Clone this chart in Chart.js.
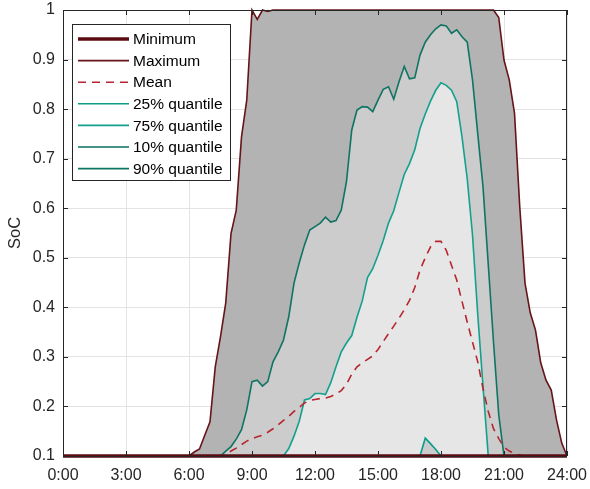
<!DOCTYPE html>
<html>
<head>
<meta charset="utf-8">
<script src="https://cdn.jsdelivr.net/npm/chart.js@4.4.1/dist/chart.umd.min.js"></script>
<style>
    html, body { margin: 0; padding: 0; background: #ffffff; }
    #contenedor { width: 590px; height: 489px; position: relative; }
</style>
</head>
<body>
<div id="contenedor"><canvas id="graficoSoc"></canvas></div>
<script>
// Hora del dia (pasos de 15 minutos)
const horas = [
    0, 0.25, 0.5, 0.75, 1, 1.25, 1.5, 1.75, 2, 2.25, 2.5, 2.75,
    3, 3.25, 3.5, 3.75, 4, 4.25, 4.5, 4.75, 5, 5.25, 5.5, 5.75,
    6, 6.25, 6.5, 6.75, 7, 7.25, 7.5, 7.75, 8, 8.25, 8.5, 8.75,
    9, 9.25, 9.5, 9.75, 10, 10.25, 10.5, 10.75, 11, 11.25, 11.5, 11.75,
    12, 12.25, 12.5, 12.75, 13, 13.25, 13.5, 13.75, 14, 14.25, 14.5, 14.75,
    15, 15.25, 15.5, 15.75, 16, 16.25, 16.5, 16.75, 17, 17.25, 17.5, 17.75,
    18, 18.25, 18.5, 18.75, 19, 19.25, 19.5, 19.75, 20, 20.25, 20.5, 20.75,
    21, 21.25, 21.5, 21.75, 22, 22.25, 22.5, 22.75, 23, 23.25, 23.5, 23.75,
    24
];

const minimo = [
    0.1, 0.1, 0.1, 0.1, 0.1, 0.1, 0.1, 0.1, 0.1, 0.1, 0.1, 0.1,
    0.1, 0.1, 0.1, 0.1, 0.1, 0.1, 0.1, 0.1, 0.1, 0.1, 0.1, 0.1,
    0.1, 0.1, 0.1, 0.1, 0.1, 0.1, 0.1, 0.1, 0.1, 0.1, 0.1, 0.1,
    0.1, 0.1, 0.1, 0.1, 0.1, 0.1, 0.1, 0.1, 0.1, 0.1, 0.1, 0.1,
    0.1, 0.1, 0.1, 0.1, 0.1, 0.1, 0.1, 0.1, 0.1, 0.1, 0.1, 0.1,
    0.1, 0.1, 0.1, 0.1, 0.1, 0.1, 0.1, 0.1, 0.1, 0.1, 0.1, 0.1,
    0.1, 0.1, 0.1, 0.1, 0.1, 0.1, 0.1, 0.1, 0.1, 0.1, 0.1, 0.1,
    0.1, 0.1, 0.1, 0.1, 0.1, 0.1, 0.1, 0.1, 0.1, 0.1, 0.1, 0.1,
    0.1
];

const maximo = [
    0.1, 0.1, 0.1, 0.1, 0.1, 0.1, 0.1, 0.1, 0.1, 0.1, 0.1, 0.1,
    0.1, 0.1, 0.1, 0.1, 0.1, 0.1, 0.1, 0.1, 0.1, 0.1, 0.1, 0.1,
    0.1, 0.108, 0.114, 0.142, 0.169, 0.28, 0.341, 0.409, 0.549, 0.596, 0.744, 0.818,
    1, 0.981, 1, 0.997, 1, 1, 1, 1, 1, 1, 1, 1,
    1, 1, 1, 1, 1, 1, 1, 1, 1, 1, 1, 1,
    1, 1, 1, 1, 1, 1, 1, 1, 1, 1, 1, 1,
    1, 1, 1, 1, 1, 1, 1, 1, 1, 1, 1, 0.985,
    0.899, 0.859, 0.792, 0.603, 0.449, 0.389, 0.354, 0.288, 0.253, 0.233, 0.173, 0.126,
    0.1
];

const media = [
    0.1, 0.1, 0.1, 0.1, 0.1, 0.1, 0.1, 0.1, 0.1, 0.1, 0.1, 0.1,
    0.1, 0.1, 0.1, 0.1, 0.1, 0.1, 0.1, 0.1, 0.1, 0.1, 0.1, 0.1,
    0.1, 0.1, 0.1, 0.1, 0.1, 0.1, 0.1, 0.102, 0.11, 0.116, 0.123, 0.13,
    0.135, 0.139, 0.142, 0.148, 0.155, 0.163, 0.172, 0.18, 0.19, 0.198, 0.207, 0.212,
    0.214, 0.216, 0.217, 0.22, 0.225, 0.232, 0.245, 0.265, 0.28, 0.288, 0.295, 0.302,
    0.315, 0.331, 0.347, 0.362, 0.378, 0.395, 0.414, 0.44, 0.475, 0.5, 0.522, 0.533,
    0.533, 0.515, 0.485, 0.455, 0.412, 0.37, 0.33, 0.29, 0.236, 0.19, 0.155, 0.135,
    0.118, 0.11, 0.105, 0.102, 0.1, 0.1, 0.1, 0.1, 0.1, 0.1, 0.1, 0.1,
    0.1
];

const cuantil25 = [
    0.1, 0.1, 0.1, 0.1, 0.1, 0.1, 0.1, 0.1, 0.1, 0.1, 0.1, 0.1,
    0.1, 0.1, 0.1, 0.1, 0.1, 0.1, 0.1, 0.1, 0.1, 0.1, 0.1, 0.1,
    0.1, 0.1, 0.1, 0.1, 0.1, 0.1, 0.1, 0.1, 0.1, 0.1, 0.1, 0.1,
    0.1, 0.1, 0.1, 0.1, 0.1, 0.1, 0.1, 0.1, 0.1, 0.1, 0.1, 0.1,
    0.1, 0.1, 0.1, 0.1, 0.1, 0.1, 0.1, 0.1, 0.1, 0.1, 0.1, 0.1,
    0.1, 0.1, 0.1, 0.1, 0.1, 0.1, 0.1, 0.1, 0.1, 0.136, 0.125, 0.113,
    0.1, 0.1, 0.1, 0.1, 0.1, 0.1, 0.1, 0.1, 0.1, 0.1, 0.1, 0.1,
    0.1, 0.1, 0.1, 0.1, 0.1, 0.1, 0.1, 0.1, 0.1, 0.1, 0.1, 0.1,
    0.1
];

const cuantil75 = [
    0.1, 0.1, 0.1, 0.1, 0.1, 0.1, 0.1, 0.1, 0.1, 0.1, 0.1, 0.1,
    0.1, 0.1, 0.1, 0.1, 0.1, 0.1, 0.1, 0.1, 0.1, 0.1, 0.1, 0.1,
    0.1, 0.1, 0.1, 0.1, 0.1, 0.1, 0.1, 0.1, 0.1, 0.1, 0.1, 0.1,
    0.1, 0.1, 0.1, 0.1, 0.1, 0.1, 0.1, 0.115, 0.14, 0.17, 0.213, 0.216,
    0.226, 0.226, 0.224, 0.248, 0.28, 0.31, 0.328, 0.343, 0.38, 0.413, 0.46, 0.478,
    0.505, 0.535, 0.57, 0.595, 0.632, 0.668, 0.69, 0.718, 0.761, 0.79, 0.816, 0.838,
    0.853, 0.848, 0.838, 0.815, 0.744, 0.659, 0.546, 0.385, 0.241, 0.1, 0.1, 0.1,
    0.1, 0.1, 0.1, 0.1, 0.1, 0.1, 0.1, 0.1, 0.1, 0.1, 0.1, 0.1,
    0.1
];

const cuantil10 = [
    0.1, 0.1, 0.1, 0.1, 0.1, 0.1, 0.1, 0.1, 0.1, 0.1, 0.1, 0.1,
    0.1, 0.1, 0.1, 0.1, 0.1, 0.1, 0.1, 0.1, 0.1, 0.1, 0.1, 0.1,
    0.1, 0.1, 0.1, 0.1, 0.1, 0.1, 0.1, 0.1, 0.1, 0.1, 0.1, 0.1,
    0.1, 0.1, 0.1, 0.1, 0.1, 0.1, 0.1, 0.1, 0.1, 0.1, 0.1, 0.1,
    0.1, 0.1, 0.1, 0.1, 0.1, 0.1, 0.1, 0.1, 0.1, 0.1, 0.1, 0.1,
    0.1, 0.1, 0.1, 0.1, 0.1, 0.1, 0.1, 0.1, 0.1, 0.1, 0.1, 0.1,
    0.1, 0.1, 0.1, 0.1, 0.1, 0.1, 0.1, 0.1, 0.1, 0.1, 0.1, 0.1,
    0.1, 0.1, 0.1, 0.1, 0.1, 0.1, 0.1, 0.1, 0.1, 0.1, 0.1, 0.1,
    0.1
];

const cuantil90 = [
    0.1, 0.1, 0.1, 0.1, 0.1, 0.1, 0.1, 0.1, 0.1, 0.1, 0.1, 0.1,
    0.1, 0.1, 0.1, 0.1, 0.1, 0.1, 0.1, 0.1, 0.1, 0.1, 0.1, 0.1,
    0.1, 0.1, 0.1, 0.1, 0.1, 0.1, 0.1, 0.11, 0.119, 0.134, 0.153, 0.193,
    0.25, 0.253, 0.241, 0.25, 0.29, 0.31, 0.334, 0.381, 0.449, 0.49, 0.526, 0.556,
    0.563, 0.57, 0.582, 0.572, 0.575, 0.596, 0.654, 0.758, 0.798, 0.805, 0.804, 0.795,
    0.818, 0.84, 0.845, 0.82, 0.855, 0.886, 0.861, 0.863, 0.909, 0.935, 0.95, 0.962,
    0.97, 0.968, 0.953, 0.96, 0.946, 0.935, 0.859, 0.75, 0.643, 0.487, 0.33, 0.183,
    0.1, 0.1, 0.1, 0.1, 0.1, 0.1, 0.1, 0.1, 0.1, 0.1, 0.1, 0.1,
    0.1
];

const etiquetasX = ['0:00', '3:00', '6:00', '9:00', '12:00', '15:00', '18:00', '21:00', '24:00'];
const etiquetasY = ['0.1', '0.2', '0.3', '0.4', '0.5', '0.6', '0.7', '0.8', '0.9', '1'];

const FUENTE = "'Liberation Sans', Arial, sans-serif";
const COLOR_EJE = '#262626';

function puntos(valores) {
    return valores.map((v, i) => ({ x: horas[i], y: v }));
}

// Caja del eje con marcas hacia dentro (estilo MATLAB)
const pluginCaja = {
    id: 'cajaEjes',
    afterDatasetsDraw(chart) {
        const { ctx, chartArea: a, scales } = chart;
        ctx.save();
        ctx.strokeStyle = COLOR_EJE;
        ctx.lineWidth = 1;
        ctx.strokeRect(a.left + 0.5, a.top + 0.5, a.right - a.left - 1, a.bottom - a.top);
        const largo = 5;
        ctx.beginPath();
        scales.x.ticks.forEach(t => {
            const px = Math.round(scales.x.getPixelForValue(t.value)) + 0.5;
            ctx.moveTo(px, a.bottom); ctx.lineTo(px, a.bottom - largo);
            ctx.moveTo(px, a.top); ctx.lineTo(px, a.top + largo);
        });
        scales.y.ticks.forEach(t => {
            const py = Math.round(scales.y.getPixelForValue(t.value)) + 0.5;
            ctx.moveTo(a.left, py); ctx.lineTo(a.left + largo, py);
            ctx.moveTo(a.right, py); ctx.lineTo(a.right - largo, py);
        });
        ctx.stroke();
        ctx.restore();
    }
};

// Leyenda dentro del area de la grafica
const pluginLeyenda = {
    id: 'leyendaInterna',
    afterDraw(chart) {
        const { ctx } = chart;
        const caja = { x: 72.5, y: 24.5, w: 158, h: 156 };
        ctx.save();
        ctx.fillStyle = '#ffffff';
        ctx.fillRect(caja.x, caja.y, caja.w, caja.h);
        ctx.strokeStyle = COLOR_EJE;
        ctx.lineWidth = 1;
        ctx.strokeRect(caja.x, caja.y, caja.w, caja.h);
        ctx.font = '15.5px ' + FUENTE;
        ctx.textBaseline = 'middle';
        chart.data.datasets.forEach((ds, i) => {
            const y = 39 + i * 21.6;
            ctx.strokeStyle = ds.borderColor;
            ctx.lineWidth = ds.borderWidth;
            ctx.setLineDash(ds.borderDash || []);
            ctx.beginPath();
            ctx.moveTo(78, y);
            ctx.lineTo(129, y);
            ctx.stroke();
            ctx.setLineDash([]);
            ctx.fillStyle = '#000000';
            ctx.fillText(ds.label, 133, y + 1);
        });
        ctx.restore();
    }
};

function renderizarGrafica() {
    const ctx = document.getElementById('graficoSoc').getContext('2d');
    const base = { pointRadius: 0, tension: 0, clip: false, fill: false };

    new Chart(ctx, {
        type: 'line',
        data: {
            datasets: [
                { ...base, label: 'Minimum', data: puntos(minimo), borderColor: '#5a0c12', borderWidth: 3.5, order: 1 },
                { ...base, label: 'Maximum', data: puntos(maximo), borderColor: '#661419', borderWidth: 1.6,
                  fill: 'start', backgroundColor: '#b3b3b3', order: 10 },
                { ...base, label: 'Mean', data: puntos(media), borderColor: '#b5262e', borderWidth: 1.6,
                  borderDash: [8, 6], order: 2 },
                { ...base, label: '25% quantile', data: puntos(cuantil25), borderColor: '#0a9e8a', borderWidth: 1.6, order: 7 },
                { ...base, label: '75% quantile', data: puntos(cuantil75), borderColor: '#13a08d', borderWidth: 1.6,
                  fill: 3, backgroundColor: '#e6e6e6', order: 8 },
                { ...base, label: '10% quantile', data: puntos(cuantil10), borderColor: '#04705f', borderWidth: 1.6, order: 6 },
                { ...base, label: '90% quantile', data: puntos(cuantil90), borderColor: '#0f7463', borderWidth: 1.6,
                  fill: 'start', backgroundColor: '#cccccc', order: 9 }
            ]
        },
        plugins: [pluginCaja, pluginLeyenda],
        options: {
            responsive: true,
            maintainAspectRatio: false,
            animation: false,
            layout: { padding: { top: 10, right: 23, left: 0, bottom: 0 } },
            plugins: {
                legend: { display: false },
                tooltip: { enabled: false }
            },
            scales: {
                x: {
                    type: 'linear',
                    min: 0,
                    max: 24,
                    afterFit: (escala) => {
                        escala.height = 33;
                        escala.paddingLeft = 0;
                        escala.paddingRight = 0;
                    },
                    ticks: {
                        stepSize: 3,
                        padding: 10,
                        maxRotation: 0,
                        color: COLOR_EJE,
                        font: { family: FUENTE, size: 16 },
                        callback: (valor, indice) => etiquetasX[indice]
                    },
                    grid: { color: '#e3e3e3', drawTicks: false },
                    border: { display: false }
                },
                y: {
                    min: 0.1,
                    max: 1,
                    afterFit: (escala) => {
                        escala.width = 63;
                        escala.paddingTop = 0;
                        escala.paddingBottom = 0;
                    },
                    ticks: {
                        stepSize: 0.1,
                        padding: 8,
                        color: COLOR_EJE,
                        font: { family: FUENTE, size: 16 },
                        callback: (valor, indice) => etiquetasY[indice]
                    },
                    grid: { color: '#e3e3e3', drawTicks: false },
                    border: { display: false },
                    title: {
                        display: true,
                        text: 'SoC',
                        color: COLOR_EJE,
                        font: { family: FUENTE, size: 16.5 },
                        padding: { top: 6, bottom: 0 }
                    }
                }
            }
        }
    });
}

document.addEventListener('DOMContentLoaded', renderizarGrafica);
</script>
</body>
</html>
